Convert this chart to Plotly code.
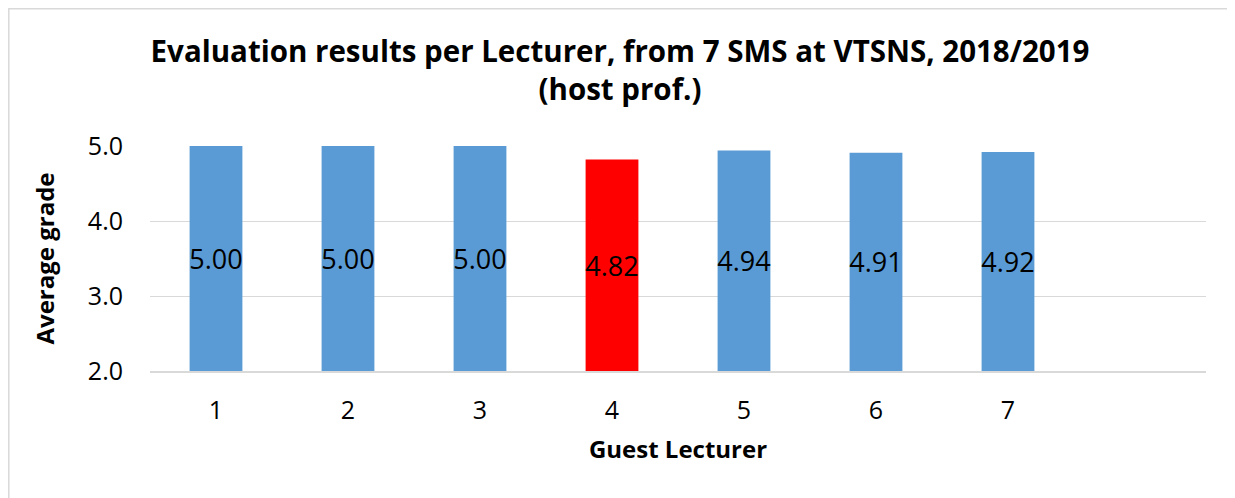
import plotly.graph_objects as go

lecturers = [1, 2, 3, 4, 5, 6, 7]
grades = [5.00, 5.00, 5.00, 4.82, 4.94, 4.91, 4.92]
bar_colors = ["#5B9BD5", "#5B9BD5", "#5B9BD5", "#FF0000", "#5B9BD5", "#5B9BD5", "#5B9BD5"]
y_ticks = [2.0, 3.0, 4.0, 5.0]
y_min = 2.0

FONT = "Open Sans"
# page body has an 8px margin; figure size/offsets compensate
W, H = 1227, 490

fig = go.Figure()
fig.add_trace(go.Bar(
    x=lecturers,
    y=[g - y_min for g in grades],
    base=y_min,
    width=0.4,
    marker=dict(color=bar_colors, line=dict(width=0)),
    text=[f"{g:.2f}" for g in grades],
    textposition="inside",
    insidetextanchor="middle",
    textangle=0,
    textfont=dict(family=FONT, size=27, color="black"),
    constraintext="none",
))

fig.update_layout(
    width=W, height=H,
    margin=dict(l=142, r=29, t=138, b=127),
    paper_bgcolor="white", plot_bgcolor="white",
    showlegend=False,
    title=dict(
        text="<b>Evaluation results per Lecturer, from 7 SMS at VTSNS, 2018/2019<br>(host prof.)</b>",
        x=(620 - 8) / W, xref="container", xanchor="center",
        y=1 - 54 / H, yref="container", yanchor="top",
        font=dict(family=FONT, size=29.5, color="black"),
    ),
    xaxis=dict(
        range=[0.5, 8.5], tickvals=lecturers, ticktext=[str(v) for v in lecturers],
        showgrid=False, zeroline=False, showline=True, linecolor="#D9D9D9", linewidth=2,
        ticks="", ticklabelstandoff=16, tickfont=dict(family=FONT, size=25, color="black"),
        title=dict(text="<b>Guest Lecturer</b>", font=dict(family=FONT, size=24, color="black"), standoff=16),
    ),
    yaxis=dict(
        range=[2, 5], tickvals=y_ticks, ticktext=[f"{v:.1f}" for v in y_ticks],
        showgrid=True, gridcolor="#D9D9D9", gridwidth=1, zeroline=False, showline=False,
        ticks="", ticklabelstandoff=26, tickfont=dict(family=FONT, size=25, color="black"),
        title=dict(text="<b>Average grade</b>", font=dict(family=FONT, size=24, color="black"), standoff=26),
    ),
    shapes=[dict(
        type="rect", xref="paper", yref="paper",
        x0=(0.8 - 142) / 1056, x1=(1223 - 142) / 1056,
        y0=(363 - 520) / 225, y1=(363 - 0.8) / 225,
        line=dict(color="#D9D9D9", width=1.5), fillcolor="rgba(0,0,0,0)", layer="below",
    )],
)

fig.write_html("out.html")
